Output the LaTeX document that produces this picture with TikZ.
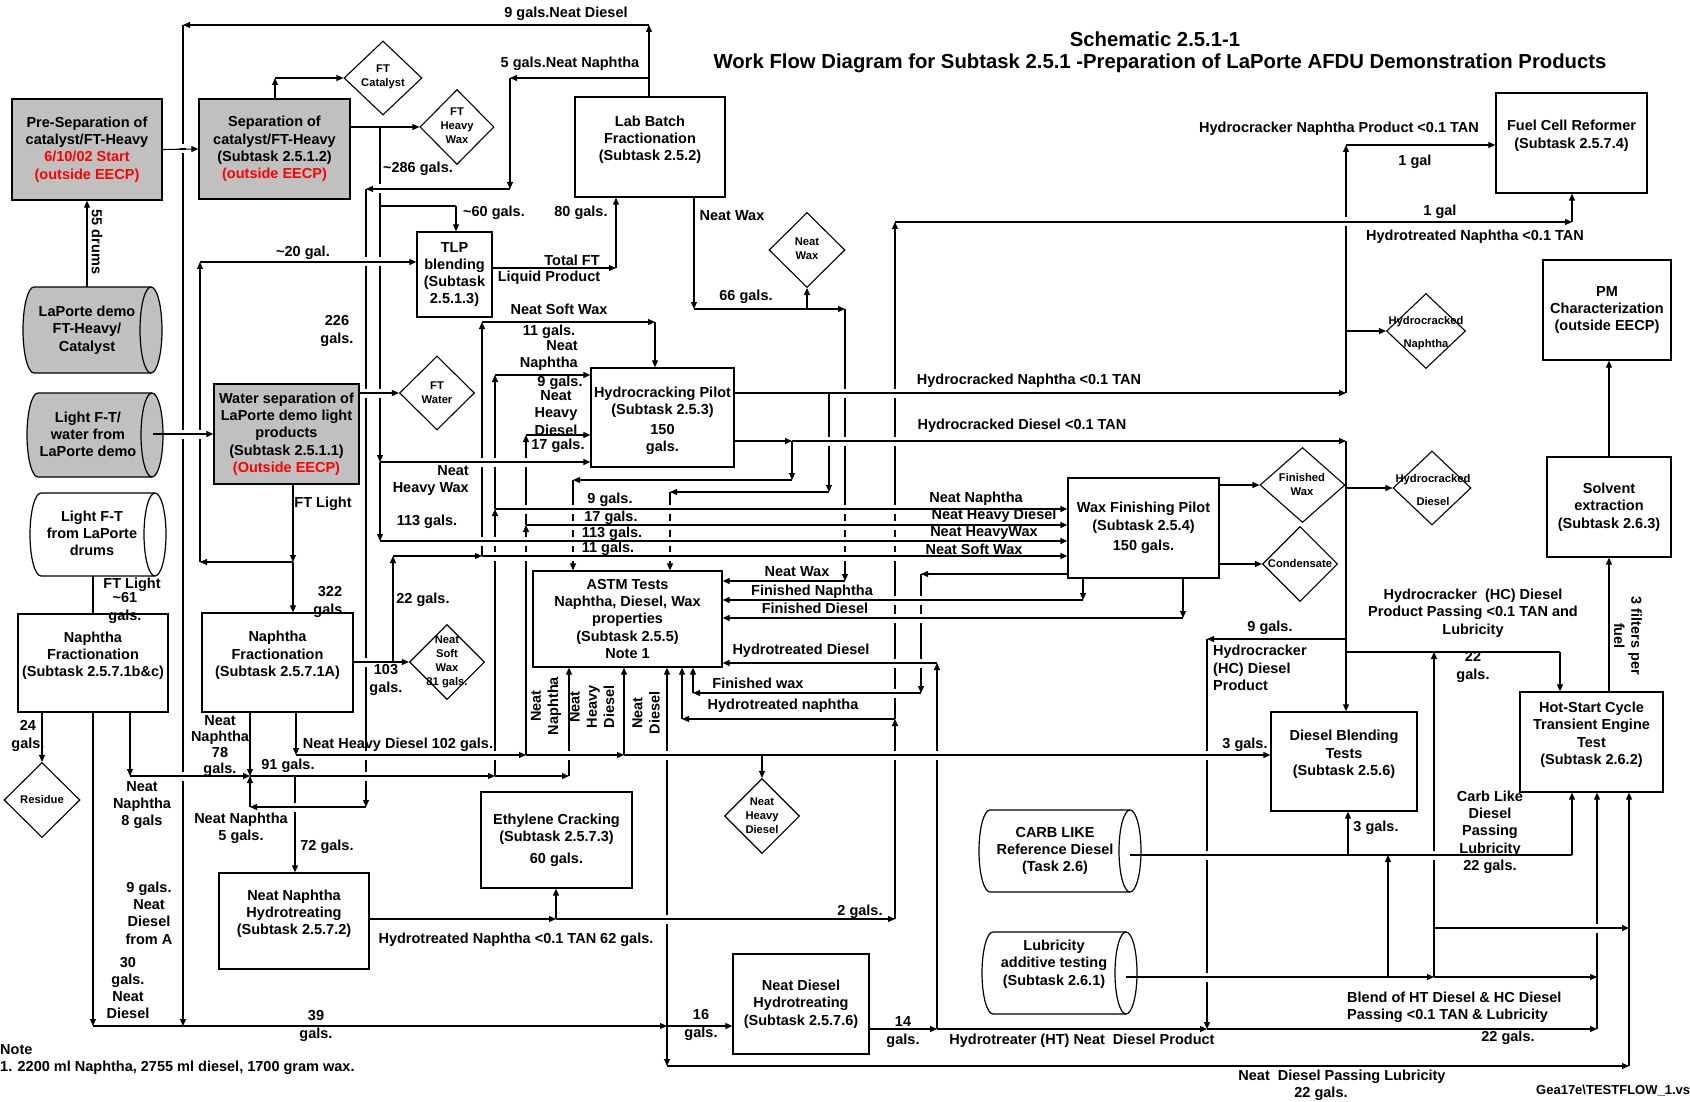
\documentclass[tikz,border=0pt]{standalone}
\usepackage{fontspec}
\setmainfont{Liberation Sans}
\usetikzlibrary{arrows.meta,shapes.geometric}
\definecolor{boxgray}{HTML}{C0C0C0}
\definecolor{flowred}{HTML}{FF0000}
\newcommand\labfont{\bfseries\fontsize{14.5}{17.3}\selectfont}
\newcommand\diafont{\bfseries\fontsize{11.2}{14}\selectfont}
\newcommand\ttlfont{\bfseries\fontsize{20.3}{24.4}\selectfont}
\newcommand\smfont{\bfseries\fontsize{13}{15.6}\selectfont}
\newcommand\rd[1]{\textcolor{flowred}{#1}}
% storage drum: left, top, right, bottom, fill colour
\newcommand\drum[5]{%
  \pgfmathsetmacro\drumhh{((#4)-(#2))/2}%
  \filldraw[fill=#5, draw=black, line width=1.2pt]
    (#1+11,#2) arc[start angle=90, end angle=270, x radius=11pt, y radius=\drumhh pt]
    -- (#3-11,#4) arc[start angle=-90, end angle=90, x radius=11pt, y radius=\drumhh pt]
    -- cycle;
  \draw[line width=1.2pt] (#3-11,#2)
    arc[start angle=90, end angle=270, x radius=11pt, y radius=\drumhh pt];
}
% line jump: break the vertical line at x, keep the horizontal one at y
\newcommand\jump[2]{%
  \fill[white] (#1-1.6,#2-4.5) rectangle (#1+1.6,#2+4.5);
  \draw[line width=1.1pt] (#1-2.6,#2) -- (#1+2.6,#2);
}
\begin{document}
\begin{tikzpicture}[x=1pt,y=-1pt,
  sz/.style 2 args={minimum width=#1pt, minimum height=#2pt},
  box/.style={draw, line width=1.3pt, align=center, inner sep=0pt, font=\labfont},
  gbox/.style={box, fill=boxgray},
  dia/.style={diamond, draw, line width=1.1pt, inner sep=0pt, fill=white},
  dtxt/.style={font=\diafont, align=center, inner sep=0pt},
  lbl/.style={font=\labfont, align=center, inner sep=0pt},
  ln/.style={line width=1.1pt},
  ar/.style={ln, -{Triangle[length=7pt,width=6pt]}},
]
\useasboundingbox[fill=white] (0,0) rectangle (1690,1102);

% ---------- title ----------
\node[lbl, font=\ttlfont] (t1) at (1155,39) {Schematic 2.5.1-1};
\node[lbl, font=\ttlfont] (t2) at (1160,63) {Work Flow Diagram for Subtask 2.5.1 -Preparation of LaPorte AFDU Demonstration Products};

% ---------- process boxes ----------
\node[gbox, sz={150}{101}] (presep) at (87,149.5) {Pre-Separation of\\catalyst/FT-Heavy\\\rd{6/10/02 Start}\\\rd{(outside EECP)}};
\node[gbox, sz={151}{100}] (sep) at (274.5,149) {Separation of\\catalyst/FT-Heavy\\(Subtask 2.5.1.2)\\\rd{(outside EECP)}};
\node[box, sz={150}{100}] (labb) at (650,147) {Lab Batch\\Fractionation\\(Subtask 2.5.2)\\~};
\node[box, sz={75}{85}] (tlp) at (454.5,274.5) {TLP\\blending\\(Subtask\\2.5.1.3)};
\node[box, sz={151}{100}] (fuel) at (1571.5,143) {Fuel Cell Reformer\\(Subtask 2.5.7.4)\\~};
\node[box, sz={128}{100}] (pm) at (1607,310) {PM\\Characterization\\(outside EECP)};
\node[box, sz={124}{100}] (solv) at (1609,507) {Solvent\\extraction\\(Subtask 2.6.3)};
\node[box, sz={143}{100}] (hot) at (1591.5,742) {Hot-Start Cycle\\Transient Engine\\Test\\(Subtask 2.6.2)\\~};
\node[gbox, sz={145}{100}] (water) at (286.5,434) {Water separation of\\LaPorte demo light\\products\\(Subtask 2.5.1.1)\\\rd{(Outside EECP)}};
\node[box, sz={150}{98}] (nfbc) at (93,663) {Naphtha\\Fractionation\\(Subtask 2.5.7.1b\&c)\\~};
\node[box, sz={151}{99}] (nfa) at (277.5,662.5) {Naphtha\\Fractionation\\(Subtask 2.5.7.1A)\\~};
\node[box, sz={143}{99}] (hcp) at (662.5,417.5) {~\\Hydrocracking Pilot\\(Subtask 2.5.3)\\[2pt]150\\gals.};
\node[box, sz={151}{100}] (wfp) at (1143.5,528) {Wax Finishing Pilot\\(Subtask 2.5.4)\\[3pt]150 gals.};
\node[box, sz={189}{96}] (astm) at (627.5,619) {ASTM Tests\\Naphtha, Diesel, Wax\\properties\\(Subtask 2.5.5)\\Note 1};
\node[box, sz={146}{99}] (dbt) at (1344,761.5) {Diesel Blending\\Tests\\(Subtask 2.5.6)\\~};
\node[box, sz={150}{96}] (nnh) at (294,921) {Neat Naphtha\\Hydrotreating\\(Subtask 2.5.7.2)\\~};
\node[box, sz={151}{96}] (eth) at (556.5,840) {Ethylene Cracking\\(Subtask 2.5.7.3)\\[4pt]60 gals.};
\node[box, sz={136}{100}] (ndh) at (801,1004) {Neat Diesel\\Hydrotreating\\(Subtask 2.5.7.6)};

% ---------- storage drums ----------
\drum{23}{287}{162}{373}{boxgray}
\node[lbl] (lph) at (87,330) {LaPorte demo\\FT-Heavy/\\Catalyst};
\drum{27}{393}{163}{477}{boxgray}
\node[lbl] (lpw) at (88,434.5) {Light F-T/\\water from\\LaPorte demo};
\drum{30}{493}{166}{576}{white}
\node[lbl] (lpd) at (92,533.5) {Light F-T\\from LaPorte\\drums};
\drum{979}{810}{1141}{892}{white}
\node[lbl] (carb) at (1055,851) {CARB LIKE\\Reference Diesel\\(Task 2.6)};
\drum{982}{932}{1137}{1014}{white}
\node[lbl] (lub) at (1054,964) {Lubricity\\additive testing\\(Subtask 2.6.1)};

% ---------- product diamonds ----------
\node[dia, sz={78}{74}] (ftcat) at (383,78) {};
\node[dtxt] (ftcat-t) at (383,77) {FT\\Catalyst};
\node[dia, sz={74}{75}] (ftwax) at (457,127) {};
\node[dtxt] (ftwax-t) at (457,126) {FT\\Heavy\\Wax};
\node[dia, sz={75}{74}] (ftwater) at (437,393) {};
\node[dtxt] (ftwater-t) at (437,393) {FT\\Water};
\node[dia, sz={76}{75}] (neatwax) at (807,250) {};
\node[dtxt] (neatwax-t) at (807,249) {Neat\\Wax};
\node[dia, sz={79}{75}] (hcnaph) at (1426,331) {};
\node[dtxt] (hcnaph-t) at (1426,333) {Hydrocracked\\[9pt]Naphtha};
\node[dia, sz={85}{75}] (finwax) at (1302.5,485) {};
\node[dtxt] (finwax-t) at (1302,484) {Finished\\Wax};
\node[dia, sz={78}{74}] (hcdiesel) at (1432,488) {};
\node[dtxt] (hcdiesel-t) at (1433,490) {Hydrocracked\\[9pt]Diesel};
\node[dia, sz={75}{75}] (cond) at (1300,564) {};
\node[dtxt] (cond-t) at (1300,563) {Condensate};
\node[dia, sz={75}{75}] (nsw) at (447,662) {};
\node[dtxt] (nsw-t) at (447,662) {Neat\\Soft\\Wax\\81 gals.};
\node[dia, sz={76}{75}] (residue) at (42,800) {};
\node[dtxt] (residue-t) at (42,799) {Residue};
\node[dia, sz={75}{75}] (nhd) at (762,816) {};
\node[dtxt] (nhd-t) at (762,816) {Neat\\Heavy\\Diesel};

% ---------- junction points ----------
\coordinate (lph-top) at (87,287);
\coordinate (lpw-out) at (153,434);
\coordinate (lpd-out) at (93,576);
\coordinate (carb-out) at (1130,855);
\coordinate (lub-out) at (1126,977);
\coordinate (c1) at (275,78);
\coordinate (j286) at (380,127);
\coordinate (j60a) at (380,206);
\coordinate (j60b) at (456,206);
\coordinate (jhw) at (380,462);
\coordinate (jhw2) at (380,541);
\coordinate (jtlp) at (616,268);
\coordinate (j9d) at (649,25);
\coordinate (j9l) at (183,25);
\coordinate (j9b) at (183,1026);
\coordinate (j5a) at (649,78);
\coordinate (j5b) at (510,78);
\coordinate (j5c) at (510,189);
\coordinate (j5d) at (366,189);
\coordinate (j5e) at (366,807);
\coordinate (j5f) at (250,807);
\coordinate (jmix) at (250,776);
\coordinate (jnw1) at (694,309);
\coordinate (jnw2) at (807,309);
\coordinate (jnw3) at (845,309);
\coordinate (jnw4) at (845,581);
\coordinate (jftl) at (293,562);
\coordinate (j20a) at (200,562);
\coordinate (j20b) at (200,262);
\coordinate (j39) at (93,1026);
\coordinate (jbc) at (130,776);
\coordinate (jnd) at (667,1026);
\coordinate (jnd2) at (667,1066);
\coordinate (jnd3) at (1629,1066);
\coordinate (j91a) at (495,776);
\coordinate (j91b) at (569,776);
\coordinate (j91c) at (495,509);
\coordinate (j91d) at (495,375);
\coordinate (jnnh) at (295,776);
\coordinate (jhd0) at (296,755);
\coordinate (jhd1) at (526,755);
\coordinate (jhd2) at (526,525);
\coordinate (jhd3) at (526,435);
\coordinate (jhd4) at (624,755);
\coordinate (jhd5) at (762,755);
\coordinate (j103) at (393,662);
\coordinate (j103b) at (393,556);
\coordinate (jsw) at (482,556);
\coordinate (jsw2) at (482,322);
\coordinate (jsw3) at (655,322);
\coordinate (jhn1) at (1346,393);
\coordinate (jhn2) at (1346,145);
\coordinate (jhn4) at (829,393);
\coordinate (jhn5) at (829,492);
\coordinate (jhn6) at (670,492);
\coordinate (jd1) at (792,441);
\coordinate (jd2) at (1346,441);
\coordinate (jd3) at (792,480);
\coordinate (jd4) at (573,480);
\coordinate (jd6) at (1346,639);
\coordinate (jd7) at (1207,639);
\coordinate (jd8) at (1207,1029);
\coordinate (jd9) at (1346,652);
\coordinate (jd10) at (1560,652);
\coordinate (jw1) at (921,574);
\coordinate (jw2) at (921,693);
\coordinate (jw3) at (693,693);
\coordinate (jw4) at (1083,600);
\coordinate (jw5) at (1183,618);
\coordinate (jt1) at (556,919);
\coordinate (jt2) at (895,919);
\coordinate (jt3) at (895,719);
\coordinate (jt4) at (682,719);
\coordinate (jt5) at (895,222);
\coordinate (jt6) at (1572,222);
\coordinate (jh1) at (937,1029);
\coordinate (jh2) at (937,663);
\coordinate (jh3) at (1597,1029);
\coordinate (jc1) at (1348,855);
\coordinate (jc2) at (1388,855);
\coordinate (jc3) at (1572,855);
\coordinate (jl1) at (1388,977);
\coordinate (jl2) at (1434,977);
\coordinate (jl3) at (1597,977);
\coordinate (jl4) at (1434,928);
\coordinate (jl5) at (1629,928);
\coordinate (jl6) at (1434,652);

% ---------- connectors ----------
% catalyst / heavy separation
\draw[ar] (lph-top) -- (presep.south);
\draw[ar] (presep.east) -- (sep.west);
\draw[ar] (sep.north -| c1) -- (c1);
\draw[ar] (c1) -- (ftcat.west);
\draw[ar] (sep.east |- j286) -- (ftwax.west);
\draw[ar] (j286) -- (jhw);
\draw[ar] (jhw) -- (jhw2);
\draw[ar] (jhw) -- (hcp.west |- jhw);
\draw[ar] (jhw2) -- (wfp.west |- jhw2);
\draw[ln] (j60a) -- (j60b);
\draw[ar] (j60b) -- (tlp.north -| j60b);
% TLP blending to lab batch
\draw[ar] (tlp.east |- jtlp) -- (jtlp);
\draw[ar] (jtlp) -- (labb.south -| jtlp);
% lab batch overheads
\draw[ar] (labb.north -| j9d) -- (j9d);
\draw[ar] (j9d) -- (j9l);
\draw[ar] (j9l) -- (j9b);
\draw[ar] (j5a) -- (j5b);
\draw[ar] (j5b) -- (j5c);
\draw[ar] (j5c) -- (j5d);
\draw[ar] (j5d) -- (j5e);
\draw[ar] (j5e) -- (j5f);
\draw[ar] (j5f) -- (jmix);
% lab batch neat wax
\draw[ar] (labb.south -| jnw1) -- (jnw1);
\draw[ar] (jnw1) -- (jnw3);
\draw[ar] (jnw2) -- (neatwax.south);
\draw[ar] (jnw3) -- (jnw4);
\draw[ar] (jnw4) -- (astm.east |- jnw4);
% water separation
\draw[ar] (lpw-out) -- (water.west |- lpw-out);
\draw[ar] (water.east |- ftwater) -- (ftwater.west);
\draw[ar] (water.south -| jftl) -- (jftl);
\draw[ar] (jftl) -- (nfa.north -| jftl);
\draw[ar] (jftl) -- (j20a);
\draw[ar] (j20a) -- (j20b);
\draw[ar] (j20b) -- (tlp.west |- j20b);
% naphtha fractionation b&c
\draw[ln] (lpd-out) -- (nfbc.north);
\draw[ar] (nfbc.south -| residue) -- (residue.north);
\draw[ar] (nfbc.south) -- (j39);
\draw[ar] (nfbc.south -| jbc) -- (jbc);
\draw[ar] (jbc) -- (jmix);
% neat diesel bottom line
\draw[ar] (j39) -- (jnd);
\draw[ar] (jnd) -- (ndh.west |- jnd);
\draw[ar] (jnd) -- (astm.south -| jnd);
\draw[ar] (jnd) -- (jnd2);
\draw[ar] (jnd2) -- (jnd3);
\draw[ar] (jnd3) -- (hot.south -| jnd3);
% neat naphtha mix
\draw[ar] (nfa.south -| jmix) -- (jmix);
\draw[ar] (jmix) -- (j91a);
\draw[ar] (j91a) -- (j91b);
\draw[ar] (j91b) -- (astm.south -| j91b);
\draw[ar] (j91a) -- (j91c);
\draw[ar] (j91c) -- (j91d);
\draw[ar] (j91d) -- (hcp.west |- j91d);
\draw[ar] (j91c) -- (wfp.west |- j91c);
\draw[ar] (jnnh) -- (nnh.north -| jnnh);
% neat heavy diesel
\draw[ar] (nfa.south -| jhd0) -- (jhd0);
\draw[ar] (jhd0) -- (jhd1);
\draw[ar] (jhd1) -- (jhd2);
\draw[ar] (jhd2) -- (jhd3);
\draw[ar] (jhd3) -- (hcp.west |- jhd3);
\draw[ar] (jhd2) -- (wfp.west |- jhd2);
\draw[ar] (jhd1) -- (jhd4);
\draw[ar] (jhd4) -- (astm.south -| jhd4);
\draw[ar] (jhd4) -- (dbt.west |- jhd4);
\draw[ar] (jhd5) -- (nhd.north);
% neat soft wax
\draw[ar] (nfa.east |- nsw) -- (nsw.west);
\draw[ar] (j103) -- (j103b);
\draw[ar] (j103b) -- (jsw);
\draw[ar] (jsw) -- (jsw2);
\draw[ar] (jsw2) -- (jsw3);
\draw[ar] (jsw3) -- (hcp.north -| jsw3);
\draw[ar] (jsw) -- (wfp.west |- jsw);
% hydrocracked naphtha
\draw[ar] (hcp.east |- jhn1) -- (jhn1);
\draw[ar] (jhn1) -- (jhn2);
\draw[ar] (jhn2) -- (fuel.west |- jhn2);
\draw[ar] (jhn1 |- hcnaph) -- (hcnaph.west);
\draw[ar] (jhn4) -- (jhn5);
\draw[ar] (jhn5) -- (jhn6);
\draw[ar] (jhn6) -- (astm.north -| jhn6);
% hydrocracked diesel
\draw[ar] (hcp.east |- jd1) -- (jd1);
\draw[ar] (jd1) -- (jd2);
\draw[ar] (jd1) -- (jd3);
\draw[ar] (jd3) -- (jd4);
\draw[ar] (jd4) -- (astm.north -| jd4);
\draw[ar] (jd2) -- (dbt.north -| jd2);
\draw[ar] (jd2 |- hcdiesel) -- (hcdiesel.west);
\draw[ar] (jd6) -- (jd7);
\draw[ar] (jd7) -- (jd8);
\draw[ln] (jd9) -- (jd10);
\draw[ar] (jd10) -- (hot.north -| jd10);
% wax finishing products
\draw[ar] (wfp.east |- finwax) -- (finwax.west);
\draw[ar] (wfp.east |- cond) -- (cond.west);
\draw[ar] (wfp.west |- jw1) -- (jw1);
\draw[ar] (jw1) -- (jw2);
\draw[ar] (jw2) -- (jw3);
\draw[ar] (jw3) -- (astm.south -| jw3);
\draw[ar] (wfp.south -| jw4) -- (jw4);
\draw[ar] (jw4) -- (astm.east |- jw4);
\draw[ar] (wfp.south -| jw5) -- (jw5);
\draw[ar] (jw5) -- (astm.east |- jw5);
% hydrotreated naphtha
\draw[ar] (nnh.east |- jt1) -- (jt1);
\draw[ar] (jt1) -- (eth.south -| jt1);
\draw[ar] (jt1) -- (jt2);
\draw[ar] (jt2) -- (jt3);
\draw[ar] (jt3) -- (jt4);
\draw[ar] (jt4) -- (astm.south -| jt4);
\draw[ar] (jt3) -- (jt5);
\draw[ar] (jt5) -- (jt6);
\draw[ar] (jt6) -- (fuel.south -| jt6);
% hydrotreated diesel
\draw[ar] (ndh.east |- jh1) -- (jh1);
\draw[ar] (jh1) -- (jh2);
\draw[ar] (jh2) -- (astm.east |- jh2);
\draw[ar] (jh1) -- (jd8);
\draw[ar] (jd8) -- (jh3);
\draw[ar] (jh3) -- (hot.south -| jh3);
% reference diesel and lubricity
\draw[ln] (carb-out) -- (jc3);
\draw[ar] (jc3) -- (hot.south -| jc3);
\draw[ar] (jc1) -- (dbt.south -| jc1);
\draw[ar] (lub-out) -- (jl2);
\draw[ar] (jl2) -- (jl3);
\draw[ar] (jl1) -- (jc2);
\draw[ar] (jl2) -- (jl6);
\draw[ar] (jl4) -- (jl5);
% engine test, extraction, PM
\draw[ar] (hot.north -| solv.south) -- (solv.south);
\draw[ar] (solv.north) -- (pm.south -| solv.north);

% ---------- line jumps (vertical runs broken where a horizontal crosses) ----------
\foreach \yy in {189,262,393} {\jump{380}{\yy}}
\foreach \yy in {149,434,776} {\jump{183}{\yy}}
\foreach \yy in {262,393,662,755,776} {\jump{366}{\yy}}
\foreach \yy in {393,441,509,525,541,556} {\jump{845}{\yy}}
\jump{200}{434}
\foreach \yy in {755,919} {\jump{667}{\yy}}
\jump{569}{755}
\foreach \yy in {462,541,556,755} {\jump{495}{\yy}}
\jump{295}{807}
\foreach \yy in {462,509,541,556} {\jump{526}{\yy}}
\foreach \yy in {462,541} {\jump{482}{\yy}}
\jump{1346}{222}
\jump{829}{441}
\foreach \yy in {509,525,541,556} {\jump{670}{\yy}\jump{573}{\yy}}
\foreach \yy in {755,855,977} {\jump{1207}{\yy}}
\foreach \yy in {600,618,663} {\jump{921}{\yy}}
\foreach \yy in {393,441,509,525,541,556,600,618,663,693,755} {\jump{895}{\yy}}
\jump{937}{755}
\jump{1597}{928}
\jump{1434}{855}

% ---------- flow labels ----------
\node[lbl] (l1) at (566,14) {9 gals.Neat Diesel};
\node[lbl] (l2) at (570,64) {5 gals.Neat Naphtha};
\node[lbl] (l3) at (418,169) {\textasciitilde286 gals.};
\node[lbl] (l4) at (494,213) {\textasciitilde60 gals.};
\node[lbl] (l5) at (581,213) {80 gals.};
\node[lbl] (l6) at (732,216) {Neat Wax};
\node[lbl] (l7) at (303,253) {\textasciitilde20 gal.};
\node[lbl] (l8) at (572,260) {Total FT};
\node[lbl] (l9) at (549,278) {Liquid Product};
\node[lbl] (l10) at (746,297) {66 gals.};
\node[lbl] (l11) at (559,309) {Neat Soft Wax};
\node[lbl] (l12) at (549,332) {11 gals.};
\node[lbl] (l13) at (337,331) {226\\gals.};
\node[lbl, align=right, anchor=east] (l14) at (578,355.5) {Neat\\Naphtha};
\node[lbl] (l15) at (560,383) {9 gals.};
\node[lbl] (l16) at (556,413) {Neat\\Heavy\\Diesel};
\node[lbl] (l17) at (558,446) {17 gals.};
\node[lbl, align=right, anchor=east] (l18) at (469,480.5) {Neat\\Heavy Wax};
\node[lbl] (l19) at (427,522) {113 gals.};
\node[lbl] (l20) at (323,504) {FT Light};
\node[lbl] (l21) at (610,500) {9 gals.};
\node[lbl] (l22) at (611,518) {17 gals.};
\node[lbl] (l23) at (612,534) {113 gals.};
\node[lbl] (l24) at (608,549) {11 gals.};
\node[lbl] (l25) at (976,499) {Neat Naphtha};
\node[lbl] (l26) at (994,516) {Neat Heavy Diesel};
\node[lbl] (l27) at (984,533) {Neat HeavyWax};
\node[lbl] (l28) at (974,549) {Neat Soft Wax};
\node[lbl] (l29) at (1029,381) {Hydrocracked Naphtha <0.1 TAN};
\node[lbl] (l30) at (1022,426) {Hydrocracked Diesel <0.1 TAN};
\node[lbl] (l31) at (1339,129) {Hydrocracker Naphtha Product <0.1 TAN};
\node[lbl] (l32) at (1415,162) {1 gal};
\node[lbl] (l33) at (1440,212) {1 gal};
\node[lbl] (l34) at (1475,237) {Hydrotreated Naphtha <0.1 TAN};
\node[lbl] (l35) at (797,572) {Neat Wax};
\node[lbl] (l36) at (812,592) {Finished Naphtha};
\node[lbl] (l37) at (815,608) {Finished Diesel};
\node[lbl] (l38) at (801,651) {Hydrotreated Diesel};
\node[lbl] (l39) at (758,683) {Finished wax};
\node[lbl] (l40) at (783,706) {Hydrotreated naphtha};
\node[lbl] (l41) at (330,602) {322\\gals.};
\node[lbl] (l42) at (132,585) {FT Light};
\node[lbl] (l43) at (125,608) {\textasciitilde61\\gals.};
\node[lbl] (l44) at (423,600) {22 gals.};
\node[lbl] (l45) at (386,680) {103\\gals.};
\node[lbl] (l46) at (220,746) {Neat\\[-1.3pt]Naphtha\\[-1.3pt]78\\[-1.3pt]gals.};
\node[lbl] (l47) at (28,736) {24\\gals.};
\node[lbl] (l48) at (398,745) {Neat Heavy Diesel 102 gals.};
\node[lbl] (l49) at (288,766) {91 gals.};
\node[lbl] (l50) at (142,805) {Neat\\Naphtha\\8 gals};
\node[lbl] (l51) at (241,828) {Neat Naphtha\\5 gals.};
\node[lbl] (l52) at (327,847) {72 gals.};
\node[lbl] (l53) at (149,913) {9 gals.\\Neat\\Diesel\\from A};
\node[lbl] (l54) at (128,988) {30\\gals.\\Neat\\Diesel};
\node[lbl] (l55) at (316,1026) {39\\gals.};
\node[lbl] (l56) at (516,940) {Hydrotreated Naphtha <0.1 TAN 62 gals.};
\node[lbl] (l57) at (860,912) {2 gals.};
\node[lbl] (l58) at (701,1025) {16\\gals.};
\node[lbl] (l59) at (903,1032) {14\\gals.};
\node[lbl] (l60) at (1082,1041) {Hydrotreater (HT) Neat\ \ Diesel Product};
\node[lbl] (l61) at (1245,745) {3 gals.};
\node[lbl] (l62) at (1270,628) {9 gals.};
\node[lbl, align=left, anchor=west] (l63) at (1213,668) {Hydrocracker\\(HC) Diesel\\Product};
\node[lbl] (l64) at (1473,613) {Hydrocracker\ \ (HC) Diesel\\Product Passing <0.1 TAN and\\Lubricity};
\node[lbl] (l65) at (1473,667) {22\\gals.};
\node[lbl] (l66) at (1376,828) {3 gals.};
\node[lbl] (l67) at (1490,832) {Carb Like\\Diesel\\Passing\\Lubricity\\22 gals.};
\node[lbl, align=left, anchor=west] (l68) at (1347,1007) {Blend of HT Diesel \& HC Diesel\\Passing <0.1 TAN \& Lubricity};
\node[lbl] (l69) at (1508,1038) {22 gals.};
\node[lbl] (l70) at (1342,1077) {Neat\ \ Diesel Passing Lubricity};
\node[lbl] (l71) at (1321,1094) {22 gals.};
\node[lbl, font=\smfont, anchor=west] (l72) at (1536,1091) {Gea17e\textbackslash TESTFLOW\_1.vs};
\node[lbl, anchor=west] (l73) at (0,1050) {Note};
\node[lbl, anchor=west] (l74) at (0,1068) {1. 2200 ml Naphtha, 2755 ml diesel, 1700 gram wax.};
\node[lbl, rotate=-90] (l75) at (97,242) {55 drums};
\node[lbl, rotate=-90] (l76) at (1628,636) {3 filters per\\fuel};
\node[lbl, rotate=90] (l77) at (546,706) {Neat\\Naphtha};
\node[lbl, rotate=90] (l78) at (592,707) {Neat\\Heavy\\Diesel};
\node[lbl, rotate=90] (l79) at (646,713) {Neat\\Diesel};
\end{tikzpicture}
\end{document}
